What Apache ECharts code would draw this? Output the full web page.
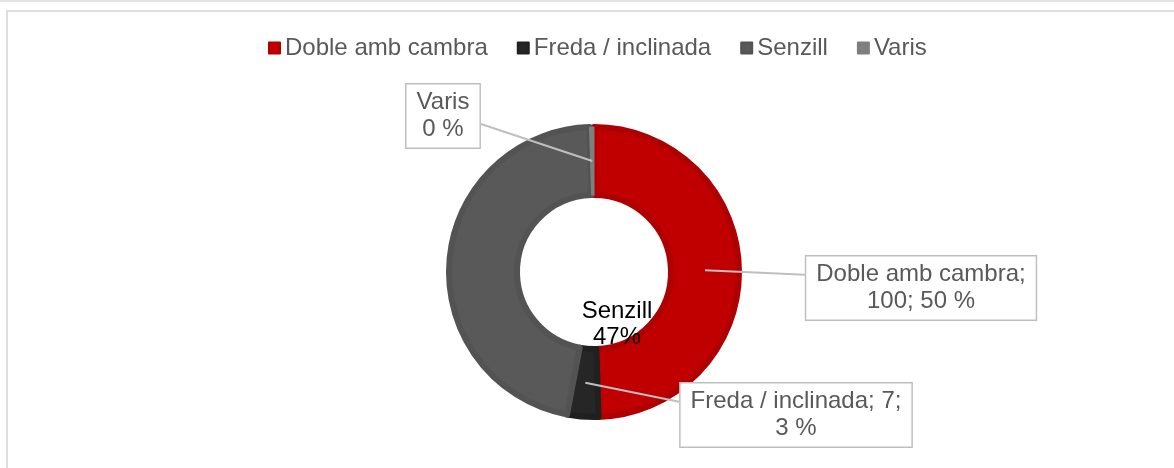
<!DOCTYPE html>
<html>
<head>
<meta charset="utf-8">
<script src="https://cdn.jsdelivr.net/npm/echarts@6/dist/echarts.min.js"></script>
<style>
  html, body { margin: 0; padding: 0; background: #fff; }
  #topline { position: absolute; left: 0; top: 0; width: 1174px; height: 2px; background: #e3e3e3; }
  #frame { position: absolute; left: 6px; top: 10px; width: 1180px; height: 470px; border: 2px solid #dedede; box-sizing: border-box; }
  #container { position: absolute; left: 0; top: 0; width: 1174px; height: 468px; }
</style>
</head>
<body>
<div id="topline"></div>
<div id="frame"></div>
<div id="container"></div>
<script>
// dades
var categories = ['Doble amb cambra', 'Freda / inclinada', 'Senzill', 'Varis'];
var values = [100, 7, 94, 1];

var colors = ['#C00000', '#262626', '#595959', '#7F7F7F'];
var borderColors = ['#AE0000', '#202020', '#535353', '#7F7F7F'];

// posicio de les etiquetes (centre de la caixa)
var labelPos = {
    'Doble amb cambra': [921, 288],
    'Freda / inclinada': [796, 415],
    'Senzill': [617, 324],
    'Varis': [443, 116]
};

var total = values.reduce(function (a, b) { return a + b; }, 0);

var dom = document.getElementById("container");
var myChart = echarts.init(dom);

function pct(p) { return Math.round(p.value / total * 100); }

var fontFam = 'Liberation Sans, Arial, sans-serif';

var pieData = categories.map(function (name, i) {
    return {
        name: name,
        value: values[i],
        itemStyle: { color: colors[i], borderColor: borderColors[i], borderWidth: i == 3 ? 1 : 6 }
    };
});

// capa de sobre nomes per a etiquetes i linies
var labelData = categories.map(function (name, i) {
    var item = { name: name, value: values[i] };
    if (name == 'Senzill') {
        item.label = {
            show: true, color: '#000', backgroundColor: 'transparent', borderWidth: 0,
            padding: 0, fontSize: 24, lineHeight: 26
        };
        item.labelLine = { show: false };
    }
    return item;
});

function midRingPoint(idx) {
    try {
        var lay = myChart.getModel().getSeriesByIndex(0).getData().getItemLayout(idx);
        var a = (lay.startAngle + lay.endAngle) / 2;
        var r = (lay.r + lay.r0) / 2;
        return [lay.cx + r * Math.cos(a), lay.cy + r * Math.sin(a)];
    } catch (e) {
        return null;
    }
}

var option = {
    animation: false,
    legend: {
        data: categories,
        left: 263,
        top: 31,
        icon: 'rect',
        itemWidth: 11,
        itemHeight: 11,
        itemGap: 29,
        textStyle: { color: '#595959', fontSize: 24, fontFamily: fontFam }
    },
    series: [{
        name: 'Finestres',
        type: 'pie',
        center: [594, 272],
        radius: [77, 145],
        startAngle: 90,
        clockwise: true,
        label: { show: false },
        labelLine: { show: false },
        data: pieData
    }, {
        name: 'Etiquetes',
        type: 'pie',
        center: [594, 272],
        radius: [77, 145],
        startAngle: 90,
        clockwise: true,
        z: 5,
        silent: true,
        avoidLabelOverlap: false,
        itemStyle: { color: 'rgba(0,0,0,0)', borderWidth: 0 },
        label: {
            show: true,
            position: 'outside',
            color: '#595959',
            fontFamily: fontFam,
            fontSize: 24,
            lineHeight: 27,
            align: 'center',
            backgroundColor: '#fff',
            borderColor: '#BFBFBF',
            borderWidth: 1.5,
            padding: [5, 10, 4, 10],
            formatter: function (p) {
                if (p.name == 'Doble amb cambra') return p.name + ';\n' + p.value + '; ' + pct(p) + ' %';
                if (p.name == 'Freda / inclinada') return p.name + '; ' + p.value + ';\n' + pct(p) + ' %';
                if (p.name == 'Senzill') return p.name + '\n' + pct(p) + '%';
                return p.name + '\n' + pct(p) + ' %';
            }
        },
        labelLine: { show: true, lineStyle: { color: '#BFBFBF', width: 2 } },
        labelLayout: function (params) {
            var name = categories[params.dataIndex];
            var pos = labelPos[name];
            var res = { x: pos[0], y: pos[1], align: 'center', verticalAlign: 'middle' };
            var tip = midRingPoint(params.dataIndex);
            if (tip && name != 'Senzill') {
                var w = params.labelRect.width, h = params.labelRect.height;
                var ex = pos[0] > tip[0] ? pos[0] - w / 2 : pos[0] + w / 2;
                var ey = pos[1] - h * 0.2;
                if (name == 'Varis') ey = pos[1] + 8;
                res.labelLinePoints = [tip, [ex, ey], [ex, ey]];
            }
            return res;
        },
        data: labelData
    }]
};

if (option && typeof option === "object") {
    myChart.setOption(option, true);
}
</script>
</body>
</html>
